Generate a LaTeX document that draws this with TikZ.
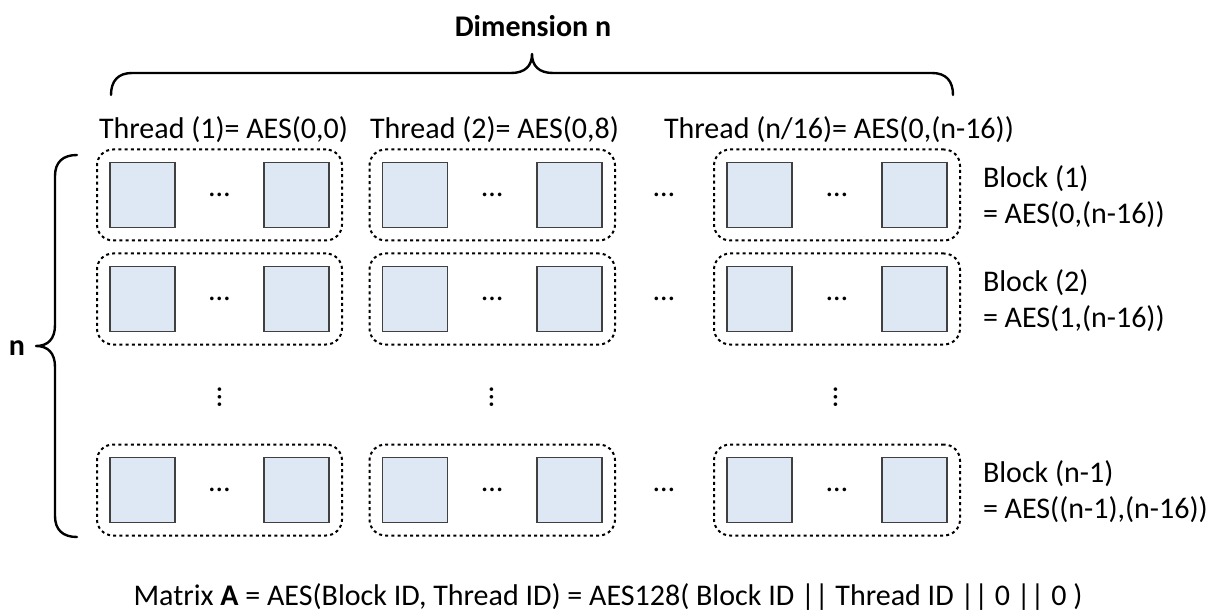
\documentclass[tikz,border=0pt]{standalone}
\usepackage{fontspec}
\setmainfont{Carlito}
\usetikzlibrary{fit}
\definecolor{cellblue}{RGB}{222,232,244}
\definecolor{celledge}{RGB}{64,64,64}
\begin{document}
\begin{tikzpicture}[x=0.5pt,y=-0.5pt,
  every node/.style={font=\fontsize{15}{18}\selectfont, inner sep=0pt, outer sep=0pt},
  cell/.style={draw=celledge, line width=0.7pt, fill=cellblue, minimum size=32.5pt},
  group/.style={draw, line width=1pt, dash pattern=on 1.5pt off 1.6pt,
                rounded corners=8pt, inner sep=6.5pt},
  brace/.style={line width=1.2pt, line cap=round, line join=round},
  lbl/.style={anchor=base west},
  blocklbl/.style={anchor=west, align=left},
  heading/.style={font=\fontsize{15}{18}\selectfont\bfseries}
]
\useasboundingbox (0,0) rectangle (1219,614);

% matrix rows of thread groups
\foreach \r/\y in {1/195, 2/299, 3/490}{
  \foreach \g/\xa/\xb in {1/142.5/296.5, 2/415/569.5, 3/759.5/914.5}{
    \node[cell] (c\r\g a) at (\xa,\y) {};
    \node[cell] (c\r\g b) at (\xb,\y) {};
    \node[group, fit=(c\r\g a)(c\r\g b)] (g\r\g) {};
    \node (e\r\g) at ({(\xa+\xb)/2},\y) {…};
  }
  \node (d\r) at (664,\y) {…};
}

% vertical ellipses between the second and last rows
\node[rotate=90] (v1) at (220,397) {…};
\node[rotate=90] (v2) at (492,397) {…};
\node[rotate=90] (v3) at (836,397) {…};

% thread labels
\node[lbl] (t1) at (99,139) {Thread (1)= AES(0,0)};
\node[lbl] (t2) at (370,139) {Thread (2)= AES(0,8)};
\node[lbl] (t3) at (664,139) {Thread (n/16)= AES(0,(n-16))};

% block labels
\node[blocklbl] (b1) at (983,197) {Block (1)\\= AES(0,(n-16))};
\node[blocklbl] (b2) at (983,301) {Block (2)\\= AES(1,(n-16))};
\node[blocklbl] (b3) at (983,492) {Block (n-1)\\= AES((n-1),(n-16))};

% horizontal brace with its heading
\draw[brace] (111,95) .. controls (111,81) and (118,73) .. (132,73) -- (511,73)
  .. controls (525,73) and (532,66) .. (532,54)
  .. controls (532,66) and (539,73) .. (553,73) -- (932,73)
  .. controls (946,73) and (953,81) .. (953,95);
\node[heading, anchor=base] (dim) at (533,37) {Dimension n};

% vertical brace with its label
\draw[brace] (77,155) .. controls (63,155) and (55,162) .. (55,176) -- (55,325)
  .. controls (55,339) and (48,346) .. (36,346)
  .. controls (48,346) and (55,353) .. (55,367) -- (55,516)
  .. controls (55,530) and (63,537) .. (77,537);
\node[heading] (nlbl) at (17,348) {n};

% caption
\node[anchor=base] (cap) at (608,605)
  {Matrix \textbf{A} = AES(Block ID, Thread ID) = AES128( Block ID || Thread ID || 0 || 0 )};
\end{tikzpicture}
\end{document}
